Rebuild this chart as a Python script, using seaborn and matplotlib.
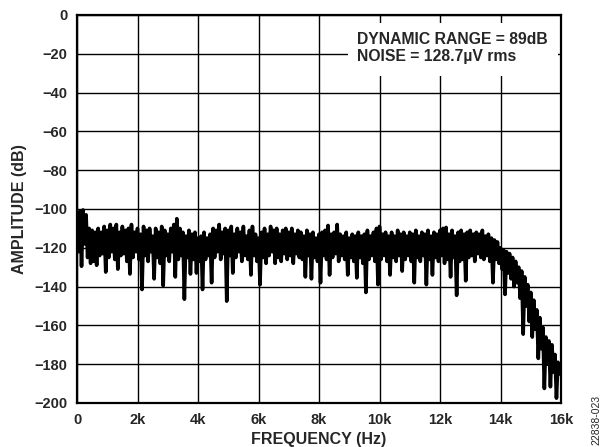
import numpy as np
import pandas as pd
import matplotlib
matplotlib.use("Agg")
import matplotlib.pyplot as plt
from matplotlib.patches import Rectangle
import seaborn as sns

# ---- data (peaks at k*100 Hz, troughs at k*100+50 Hz) ----
peak_db = [
    -104, -101, -100.5, -103, -110, -111, -112, -110, -112, -109,
    -111, -108, -110, -108, -112, -109, -111, -110, -108, -112,
    -110, -113, -109, -111, -110, -114, -110, -112, -109, -111,
    -113, -110, -108, -105, -110, -112, -114, -111, -113, -112,
    -115, -114, -112, -115, -113, -110, -111, -108, -112, -110,
    -111, -109, -113, -110, -112, -109, -114, -111, -109, -113,
    -115, -112, -110, -113, -109, -111, -110, -113, -111, -110,
    -112, -110, -113, -111, -112, -114, -111, -113, -112, -115,
    -113, -112, -111, -108.5, -113, -112, -108, -113, -114, -112,
    -115, -113, -114, -112, -114, -113, -111, -114, -112, -110,
    -109, -113, -112, -114, -112, -114, -111, -113, -112, -114,
    -112, -113, -111, -114, -112, -113, -111, -114, -112, -113,
    -111, -110, -109.5, -113, -111, -114, -112, -111, -113, -112,
    -111, -113, -112, -113, -111, -114, -113, -115, -116, -117,
    -120, -121, -122, -123, -125, -127, -130, -132, -135, -139,
    -143, -147, -152, -156, -161, -166, -168, -170, -175, -179,
]
trough_db = [
    -122, -129.5, -118, -125, -128, -127, -129, -124, -123, -132.5,
    -125, -122, -126, -131, -124, -123, -127, -133.5, -125, -122,
    -126, -141.5, -124, -127, -122, -136, -125, -128, -139.5, -124,
    -127, -122, -135, -126, -124, -146.5, -125, -133.5, -126, -133,
    -127, -141.5, -126, -124, -138, -125, -122, -126, -123, -147.5,
    -124, -133, -125, -122, -127, -124, -126, -134, -124, -127,
    -139, -125, -128, -124, -122, -128, -125, -127, -123, -126,
    -124, -128, -123, -125, -126, -135, -124, -136, -125, -127,
    -138, -124, -126, -134, -125, -123, -127, -124, -126, -134,
    -125, -127, -135.5, -125, -128, -143, -126, -124, -127, -139,
    -126, -124, -127, -134, -125, -127, -124, -132, -126, -124,
    -127, -138, -125, -127, -124, -139, -126, -134, -125, -127,
    -124, -128, -126, -135, -125, -144.5, -127, -126, -137, -125,
    -124, -127, -123, -125, -126, -124, -127, -138, -126, -128,
    -131, -144, -133, -136, -140, -138, -146, -164.5, -150, -158,
    -166, -162, -177, -172, -192.5, -180, -191.6, -184, -197.5, -185,
]
x_ticks = [0, 2000, 4000, 6000, 8000, 10000, 12000, 14000, 16000]
x_tick_labels = ["0", "2k", "4k", "6k", "8k", "10k", "12k", "14k", "16k"]
y_ticks = [0, -20, -40, -60, -80, -100, -120, -140, -160, -180, -200]
y_tick_labels = ["0" if v == 0 else "\u2212" + str(-v) for v in y_ticks]
annotation_lines = ["DYNAMIC RANGE = 89dB", "NOISE = 128.7\u00b5V rms"]

# ---- build the trace (interleave peaks and troughs) ----
freqs, amps = [], []
for k in range(len(peak_db)):
    freqs.append(k * 100)
    amps.append(peak_db[k])
    freqs.append(k * 100 + 50)
    amps.append(trough_db[k])
df = pd.DataFrame({"freq": freqs, "amp": amps})

sns.set_style("white")
plt.rcParams["font.family"] = ["Liberation Sans", "DejaVu Sans"]

fig = plt.figure(figsize=(6.01, 4.47), dpi=100)
ax = fig.add_axes([77 / 601, 1 - 403 / 447, 484 / 601, 388 / 447])

sns.lineplot(data=df, x="freq", y="amp", sort=False, estimator=None,
             color="black", linewidth=2.6, ax=ax, zorder=3)

ax.set_xlim(0, 16000)
ax.set_ylim(-200, 0)
ax.set_xticks(x_ticks)
ax.set_xticklabels(x_tick_labels, fontsize=10.5, fontweight="bold")
ax.set_yticks(y_ticks)
ax.set_yticklabels(y_tick_labels, fontsize=10.5, fontweight="bold")
ax.tick_params(axis="x", length=0, pad=7)
ax.tick_params(axis="y", length=0, pad=7)
ax.set_axisbelow(True)
ax.grid(True, color="black", linewidth=1.0)
for s in ax.spines.values():
    s.set_color("black")
    s.set_linewidth(1.6)

ax.set_xlabel("FREQUENCY (Hz)", fontsize=11.5, fontweight="bold", labelpad=4)
ax.set_ylabel("AMPLITUDE (dB)", fontsize=11.5, fontweight="bold", labelpad=5)

# white box behind annotation text
ax.add_patch(Rectangle((8960, -31.4), 6940, 27.3, facecolor="white",
                       edgecolor="none", zorder=2))
ax.text(9260, -12.6, annotation_lines[0], fontsize=11.3, fontweight="bold",
        va="center", ha="left", zorder=4)
ax.text(9260, -21.4, annotation_lines[1], fontsize=11.3, fontweight="bold",
        va="center", ha="left", zorder=4)

fig.text(596 / 601, 1 - 420 / 447, "22838-023", rotation=90, fontsize=7.5,
         ha="center", va="center")

fig.savefig("out.png", dpi=100)
